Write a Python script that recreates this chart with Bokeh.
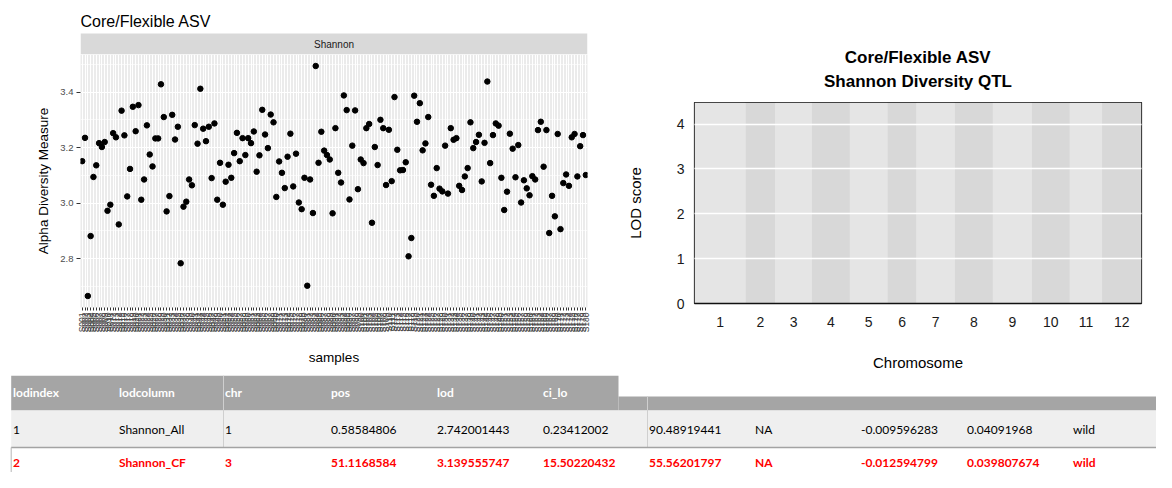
import math
from bokeh.plotting import figure
from bokeh.layouts import row, column
from bokeh.models import Range1d, FactorRange, FixedTicker, PrintfTickFormatter
from bokeh.core.properties import value
from bokeh.embed import file_html
from bokeh.resources import INLINE

# ---------------- data ----------------
samples = [f"S{i:03d}" for i in range(1, 181)]
shannon = [
    3.151, 3.235, 2.665, 2.881, 3.094, 3.136, 3.216, 3.202, 3.220, 2.972,
    2.994, 3.252, 3.237, 2.923, 3.333, 3.244, 3.024, 3.123, 3.347, 3.259,
    3.353, 3.012, 3.085, 3.280, 3.175, 3.132, 3.233, 3.233, 3.428, 3.310,
    2.970, 3.025, 3.318, 3.229, 3.275, 2.783, 2.987, 3.005, 3.085, 3.064,
    3.281, 3.214, 3.412, 3.268, 3.223, 3.275, 3.090,
    3.287, 3.012, 3.145, 2.994, 3.077, 3.138, 3.091, 3.180, 3.253, 3.151,
    3.234, 3.173, 3.234, 3.216, 3.258, 3.113, 3.172, 3.336, 3.247, 3.198,
    3.319, 3.291, 3.022, 3.150, 3.109, 3.054, 3.167, 3.250, 3.060, 3.178,
    3.002, 2.978, 3.091, 2.702, 3.085, 2.964, 3.494, 3.145, 3.257, 3.189,
    3.173, 3.157, 2.963, 3.270, 3.109, 3.074,
    3.388, 3.335, 3.013, 3.207, 3.334, 3.050, 3.157, 3.144, 3.270, 3.285,
    2.929, 3.202, 3.137, 3.300, 3.270, 3.065, 3.264, 3.079, 3.382, 3.192,
    3.118, 3.119, 3.147, 2.808, 2.874, 3.387, 3.293, 3.360, 3.190, 3.215,
    3.310, 3.066, 3.026, 3.126, 3.052, 3.042, 3.207, 3.034, 3.270, 3.228,
    3.234, 3.062, 3.047, 3.096, 3.126, 3.291,
    3.198, 3.220, 3.246, 3.078, 3.217, 3.438, 3.144, 3.245, 3.287, 3.279,
    3.091, 2.975, 3.041, 3.250, 3.196, 3.093, 3.209, 3.002, 3.082, 3.053,
    3.028, 3.097, 3.085, 3.263, 3.293, 3.131, 3.263, 2.892, 3.026, 2.952,
    3.249, 2.906, 3.072, 3.103, 3.062, 3.237, 3.249, 3.096, 3.205, 3.245,
    3.101,
]
alpha_ticks = [2.8, 3.0, 3.2, 3.4]
alpha_minor = [2.7, 2.9, 3.1, 3.3, 3.5]

chromosomes = ["1", "2", "3", "4", "5", "6", "7", "8", "9", "10", "11", "12"]
chr_lengths = [138, 79, 99, 102, 102, 77, 104, 102, 105, 102, 87, 106]
lod_ticks = [0, 1, 2, 3, 4]
lod_max = 4.48

table_header = ["lodindex", "lodcolumn", "chr", "pos", "lod", "ci_lo"]
table_row1 = ["1", "Shannon_All", "1", "0.58584806", "2.742001443", "0.23412002",
              "90.48919441", "NA", "-0.009596283", "0.04091968", "wild"]
table_row2 = ["2", "Shannon_CF", "3", "51.1168584", "3.139555747", "15.50220432",
              "55.56201797", "NA", "-0.012594799", "0.039807674", "wild"]

SANS = value("Liberation Sans")


def blank(fig):
    fig.grid.visible = False
    fig.outline_line_color = None
    fig.background_fill_color = "white"
    fig.border_fill_color = "white"
    return fig


# ---------------- left: ggplot-like scatter ----------------
# header (title + facet strip); frame aligned with the panel below
p1top = blank(figure(width=592, height=54, x_range=Range1d(80, 587), y_range=Range1d(54, 0),
                     x_axis_type=None, y_axis_type=None,
                     min_border_left=80, min_border_right=5, min_border_top=0, min_border_bottom=0,
                     output_backend="svg", toolbar_location=None))
p1top.text(x=[80], y=[21], text=["Core/Flexible ASV"], text_font=SANS, text_font_size="16px",
           text_align="left", text_baseline="alphabetic", text_color="black")
p1top.quad(left=[80], right=[587], top=[33], bottom=[54], fill_color="#d9d9d9", line_color=None)
p1top.text(x=[333.5], y=[43.5], text=["Shannon"], text_font=SANS, text_font_size="10px",
           text_align="center", text_baseline="middle", text_color="#1a1a1a")

span = max(shannon) - min(shannon)
y_lo = min(shannon) - 0.05 * span
y_hi = max(shannon) + 0.05 * span

p1 = figure(width=592, height=321,
            x_range=FactorRange(factors=samples, range_padding=0.1, range_padding_units="absolute"),
            y_range=Range1d(y_lo, y_hi),
            min_border_left=80, min_border_right=5, min_border_top=0, min_border_bottom=68,
            output_backend="svg", toolbar_location=None)
p1.background_fill_color = "#ebebeb"
p1.border_fill_color = "white"
p1.outline_line_color = None
p1.xgrid.grid_line_color = "white"
p1.xgrid.grid_line_width = 1
p1.ygrid.ticker = FixedTicker(ticks=alpha_ticks, minor_ticks=alpha_minor)
p1.ygrid.grid_line_color = "white"
p1.ygrid.grid_line_width = 1.1
p1.ygrid.minor_grid_line_color = "white"
p1.ygrid.minor_grid_line_width = 0.6

p1.scatter(x=samples, y=shannon, size=5.5, color="black")

p1.yaxis.ticker = FixedTicker(ticks=alpha_ticks)
p1.yaxis.formatter = PrintfTickFormatter(format="%.1f")
for ax in (p1.xaxis[0], p1.yaxis[0]):
    ax.axis_line_color = None
    ax.major_tick_in = 0
    ax.minor_tick_line_color = None
    ax.major_tick_line_color = "#333333"
    ax.major_label_text_color = "#4d4d4d"
    ax.major_label_text_font = "Liberation Sans"
    ax.axis_label_text_font = "Liberation Sans"
    ax.axis_label_text_font_style = "normal"
    ax.axis_label_text_font_size = "13.5px"
    ax.axis_label_text_color = "black"
p1.yaxis.major_tick_out = 4
p1.yaxis.major_label_text_font_size = "9.5px"
p1.yaxis.major_label_standoff = 3
p1.yaxis.axis_label = "Alpha Diversity Measure"
p1.yaxis.axis_label_standoff = 6
p1.xaxis.major_tick_out = 3
p1.xaxis.major_label_orientation = math.pi / 2
p1.xaxis.major_label_text_font_size = "8.5px"
p1.xaxis.major_label_text_color = "#444444"
p1.xaxis.major_label_standoff = 2
p1.xaxis.axis_label = "samples"
p1.xaxis.axis_label_standoff = 15

# ---------------- right: QTL scan ----------------
p2top = blank(figure(width=564, height=98, x_range=Range1d(694, 1141), y_range=Range1d(98, 0),
                     x_axis_type=None, y_axis_type=None,
                     min_border_left=102, min_border_right=15, min_border_top=0, min_border_bottom=0,
                     output_backend="svg", toolbar_location=None))
p2top.text(x=[917.5, 917.5], y=[57, 81], text=["Core/Flexible ASV", "Shannon Diversity QTL"],
           text_font=SANS, text_font_size="17px", text_font_style="bold",
           text_align="center", text_baseline="alphabetic", text_color="black")

starts, ends, mids = [], [], []
acc = 0
for L in chr_lengths:
    starts.append(acc)
    ends.append(acc + L)
    mids.append(acc + L / 2)
    acc += L
band_colors = ["#e5e5e5" if i % 2 == 0 else "#d8d8d8" for i in range(len(chr_lengths))]

p2 = figure(width=564, height=277, x_range=Range1d(0, acc), y_range=Range1d(0, lod_max),
            min_border_left=102, min_border_right=15, min_border_top=4, min_border_bottom=72,
            output_backend="svg", toolbar_location=None)
p2.background_fill_color = "#e5e5e5"
p2.border_fill_color = "white"
p2.quad(left=starts, right=ends, bottom=0, top=lod_max, fill_color=band_colors, line_color=None)
p2.xgrid.visible = False
p2.ygrid.ticker = FixedTicker(ticks=lod_ticks[1:])
p2.ygrid.grid_line_color = "white"
p2.ygrid.grid_line_width = 1.3
p2.ygrid.level = "annotation"
p2.outline_line_color = "#111111"
p2.outline_line_width = 1.2

p2.xaxis.ticker = FixedTicker(ticks=mids)
p2.xaxis.major_label_overrides = {m: c for m, c in zip(mids, chromosomes)}
p2.yaxis.ticker = FixedTicker(ticks=lod_ticks)
for ax in (p2.xaxis[0], p2.yaxis[0]):
    ax.major_tick_in = 0
    ax.major_tick_out = 0
    ax.minor_tick_line_color = None
    ax.major_label_text_font = "Liberation Sans"
    ax.major_label_text_font_size = "14px"
    ax.major_label_text_color = "#1a1a1a"
    ax.axis_label_text_font = "Liberation Sans"
    ax.axis_label_text_font_style = "normal"
    ax.axis_label_text_font_size = "15px"
    ax.axis_label_text_color = "black"
p2.yaxis.axis_line_color = None
p2.xaxis.axis_line_color = "#111111"
p2.xaxis.axis_line_width = 1.5
p2.yaxis.major_label_standoff = 10
p2.yaxis.axis_label = "LOD score"
p2.yaxis.axis_label_standoff = 30
p2.xaxis.major_label_standoff = 13
p2.xaxis.axis_label = "Chromosome"
p2.xaxis.axis_label_standoff = 24

# ---------------- bottom: table ----------------
p3 = blank(figure(width=1156, height=97, x_range=Range1d(0, 1156), y_range=Range1d(472, 375),
                  x_axis_type=None, y_axis_type=None, min_border=0,
                  output_backend="svg", toolbar_location=None))
p3.quad(left=[10.7, 618], right=[618, 1172], top=[375, 396], bottom=[410, 410],
        fill_color="#a5a5a5", line_color=None)
p3.quad(left=[10.7], right=[1172], top=[410], bottom=[447], fill_color="#efefef", line_color=None)
p3.segment(x0=[223, 647], y0=[375, 396], x1=[223, 647], y1=[447, 447], line_color="#cfcfcf", line_width=1)
p3.segment(x0=[10.7], y0=[447], x1=[1172], y1=[447], line_color="#a3a3a3", line_width=1.5)
p3.segment(x0=[10.7], y0=[447], x1=[10.7], y1=[490], line_color="#b5b5b5", line_width=1)

col_x = [12.5 + 106 * i for i in range(len(table_row1))]
TABLE_FONT = value("Lato")
p3.text(x=col_x[:len(table_header)], y=[392] * len(table_header), text=table_header,
        text_font=TABLE_FONT, text_font_size="12px", text_font_style="bold",
        text_color="white", text_align="left", text_baseline="middle")
p3.text(x=col_x, y=[429] * len(table_row1), text=table_row1,
        text_font=TABLE_FONT, text_font_size="12px", text_color="black",
        text_align="left", text_baseline="middle")
p3.text(x=col_x, y=[462] * len(table_row2), text=table_row2,
        text_font=TABLE_FONT, text_font_size="12px", text_font_style="bold",
        text_color="#ff0000", text_align="left", text_baseline="middle")

layout = column(row(column(p1top, p1), column(p2top, p2)), p3)

open("out.html", "w").write(file_html(layout, INLINE))
